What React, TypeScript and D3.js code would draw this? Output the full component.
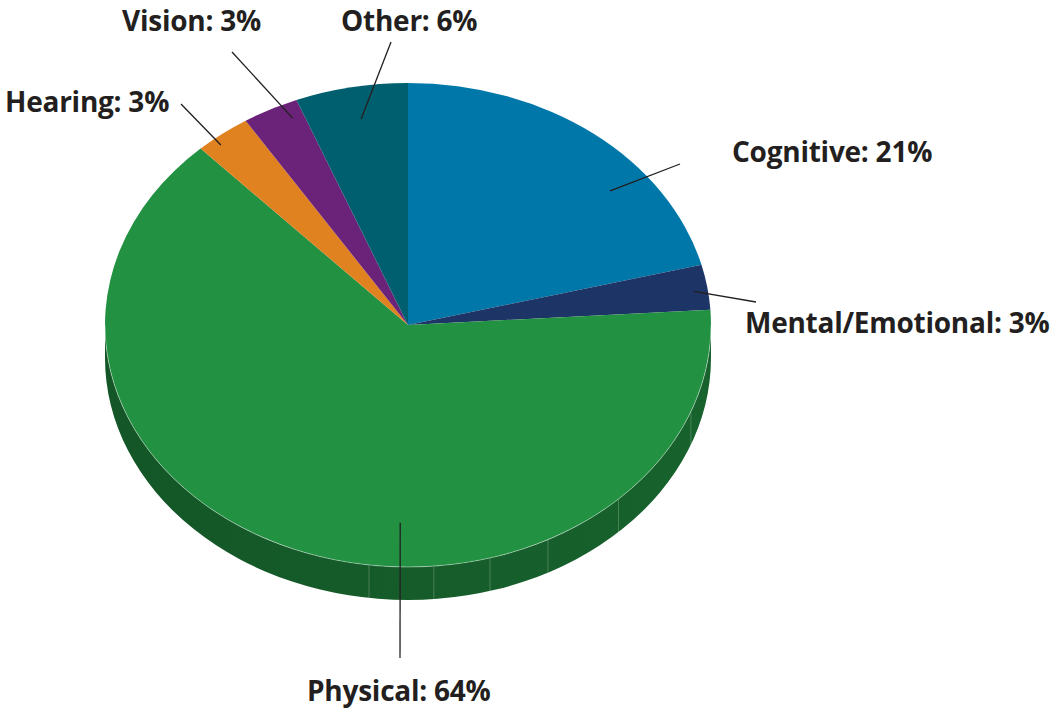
import * as d3 from "d3";
import { useEffect, useRef } from "react";

// categories, clockwise from 12 o'clock
const categories = ["Cognitive", "Mental/Emotional", "Physical", "Hearing", "Vision", "Other"];
const values = [21, 3, 64, 3, 3, 6];
const colors = ["#0077a9", "#1d3566", "#229142", "#e0821f", "#6b237a", "#005f6e"];

// label layout: inner end of leader (angle deg, radius fraction), outer end and text start (px)
const labelLayout = [
  { anchor: [50.3, 0.867], end: [680, 164], text: [732, 162] },
  { anchor: [81.6, 0.954], end: [756, 302], text: [745, 333] },
  { anchor: [181.8, 0.818], end: [400, 658], text: [307, 701] },
  { anchor: [320.3, 0.967], end: [181, 104], text: [5, 112] },
  { anchor: [336, 0.936], end: [232, 52], text: [122, 31] },
  { anchor: [349.7, 0.865], end: [391, 42], text: [341, 31] },
];

// thin seams on the rim (deg), as in the source rendering
const seams = [111, 136, 152.5, 164.3, 175.1, 187.4];

export default function App() {
  const ref = useRef<SVGSVGElement>(null);

  useEffect(() => {
    if (!ref.current) return;
    const svg = d3.select(ref.current);
    svg.selectAll("*").remove();

    const cx = 408;
    const cy = 325;
    const rx = 303;
    const ry = 242;
    const depth = 33;

    const pie = d3
      .pie<number>()
      .sort(null)
      .value((d) => d)
      .startAngle(0)
      .endAngle(2 * Math.PI);
    const arcs = pie(values);

    const pt = (a: number, f = 1, dy = 0): [number, number] => [
      cx + rx * f * Math.sin(a),
      cy - ry * f * Math.cos(a) + dy,
    ];

    const defs = svg.append("defs");

    // rim (side) — only the front half is visible
    arcs.forEach((d, i) => {
      const a0 = Math.max(d.startAngle, Math.PI / 2);
      const a1 = Math.min(d.endAngle, (3 * Math.PI) / 2);
      if (a1 <= a0) return;
      const base = d3.color(colors[i])!;
      const gid = `rim${i}`;
      const g = defs
        .append("linearGradient")
        .attr("id", gid)
        .attr("gradientUnits", "userSpaceOnUse")
        .attr("x1", cx - rx)
        .attr("x2", cx + rx)
        .attr("y1", 0)
        .attr("y2", 0);
      g.append("stop").attr("offset", 0).attr("stop-color", base.darker(1.45).formatHex());
      g.append("stop").attr("offset", 1).attr("stop-color", base.darker(1.1).formatHex());

      const p0 = pt(a0);
      const p1 = pt(a1);
      const q1 = pt(a1, 1, depth);
      const q0 = pt(a0, 1, depth);
      const path = `M${p0} A${rx},${ry} 0 0 1 ${p1} L${q1} A${rx},${ry} 0 0 0 ${q0} Z`;
      svg.append("path").attr("d", path).attr("fill", `url(#${gid})`);
    });

    seams.forEach((deg) => {
      const a = (deg * Math.PI) / 180;
      const [x1, y1] = pt(a);
      const [x2, y2] = pt(a, 1, depth);
      svg
        .append("line")
        .attr("x1", x1)
        .attr("y1", y1)
        .attr("x2", x2)
        .attr("y2", y2)
        .attr("stroke", "rgba(255,255,255,0.22)")
        .attr("stroke-width", 1);
    });

    // top face
    const arc = d3.arc<d3.PieArcDatum<number>>().innerRadius(0).outerRadius(ry);
    svg
      .append("g")
      .attr("transform", `translate(${cx},${cy}) scale(${rx / ry},1)`)
      .selectAll("path")
      .data(arcs)
      .enter()
      .append("path")
      .attr("d", arc)
      .attr("fill", (_, i) => colors[i]);

    // light edge between top face and rim
    const e0 = pt(Math.PI / 2);
    const e1 = pt((3 * Math.PI) / 2);
    svg
      .append("path")
      .attr("d", `M${e0} A${rx},${ry} 0 0 1 ${e1}`)
      .attr("fill", "none")
      .attr("stroke", "rgba(255,255,255,0.4)")
      .attr("stroke-width", 1);

    // leaders and labels
    labelLayout.forEach((l, i) => {
      const [ax, ay] = pt((l.anchor[0] * Math.PI) / 180, l.anchor[1]);
      svg
        .append("line")
        .attr("x1", ax)
        .attr("y1", ay)
        .attr("x2", l.end[0])
        .attr("y2", l.end[1])
        .attr("stroke", "#231f20")
        .attr("stroke-width", 1.3);
      svg
        .append("text")
        .attr("x", l.text[0])
        .attr("y", l.text[1])
        .attr("font-family", "'Open Sans', sans-serif")
        .attr("font-weight", 700)
        .attr("font-size", 28)
        .attr("letter-spacing", -0.25)
        .attr("fill", "#231f20")
        .text(`${categories[i]}: ${values[i]}%`);
    });
  }, []);

  return (
    <svg
      ref={ref}
      width={1050}
      height={708}
      style={{ position: "absolute", left: 0, top: 0, background: "#fff" }}
    ></svg>
  );
}
